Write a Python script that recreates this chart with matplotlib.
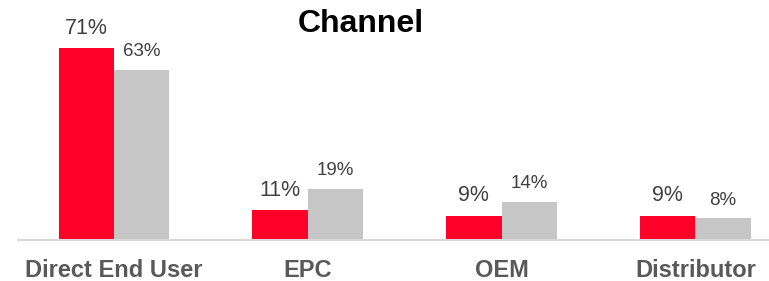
import matplotlib.pyplot as plt
import numpy as np

plt.rcParams['font.family'] = ['Liberation Sans', 'DejaVu Sans']

categories = ["Direct End User", "EPC", "OEM", "Distributor"]
series_a = [71, 11, 9, 9]
series_b = [63, 19, 14, 8]

red = "#FF0029"
grey = "#C6C6C6"

fig = plt.figure(figsize=(7.69, 2.81), dpi=100)
# axes spans from x=18px to the right edge, baseline at y=240px
ax = fig.add_axes([18 / 769, (281 - 240) / 281, 1 - 18 / 769, 240 / 281])

x = np.arange(len(categories))
w = 0.286
bars_a = ax.bar(x - w / 2, series_a, w, color=red)
bars_b = ax.bar(x + w / 2, series_b, w, color=grey)

for b, v in zip(bars_a, series_a):
    ax.text(b.get_x() + b.get_width() / 2, v + 3.6, f"{v}%", ha="center", va="bottom",
            fontsize=15.5, color="#404040")
for b, v in zip(bars_b, series_b):
    ax.text(b.get_x() + b.get_width() / 2, v + 3.6, f"{v}%", ha="center", va="bottom",
            fontsize=13.5, color="#404040")

ax.set_xlim(-0.495, 3.38)
ax.set_ylim(0, 88.9)
ax.set_yticks([])
ax.set_xticks(x)
ax.set_xticklabels(categories, fontsize=17, fontweight="bold", color="#595959")
ax.tick_params(axis="x", length=0, pad=14)
for s in ["top", "right", "left"]:
    ax.spines[s].set_visible(False)
ax.spines["bottom"].set_color("#D9D9D9")
ax.spines["bottom"].set_linewidth(1.5)

fig.text(361 / 769, 1 - 24 / 281, "Channel", ha="center", va="center",
         fontsize=23, fontweight="bold", color="black")

fig.savefig("out.png", dpi=100)
